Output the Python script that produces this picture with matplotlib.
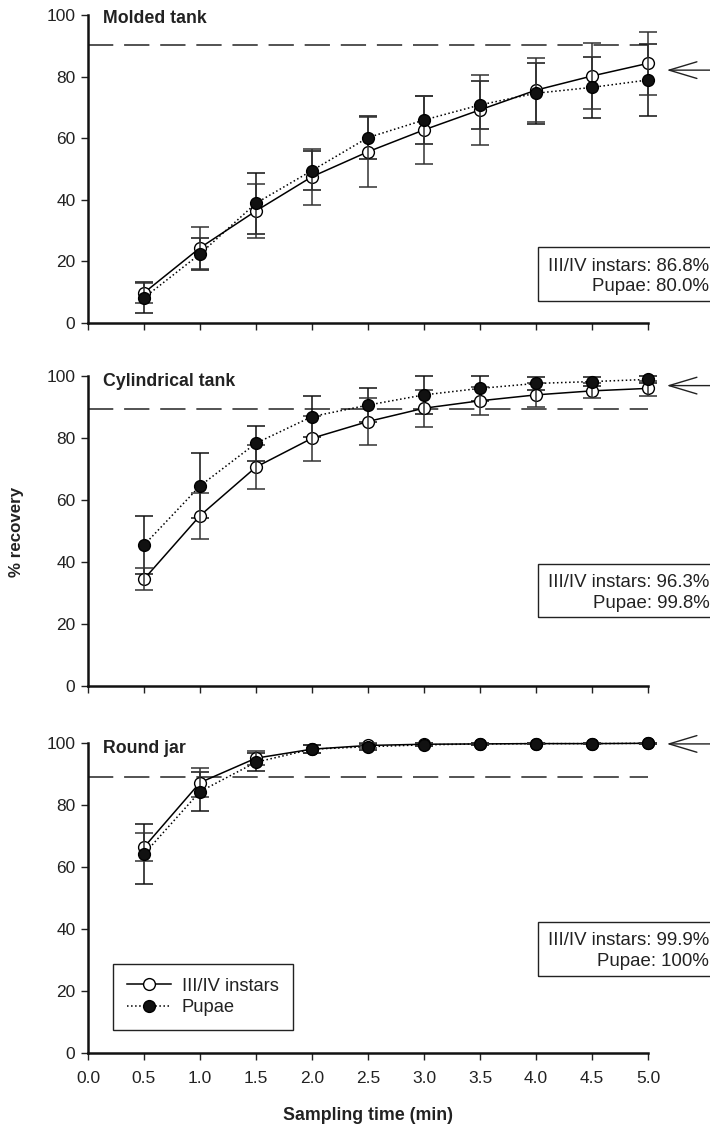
import matplotlib
matplotlib.use("Agg")
import matplotlib.pyplot as plt
from matplotlib.patches import Rectangle

plt.rcParams['font.family'] = ['Liberation Sans', 'DejaVu Sans']

# ---------------- data ----------------
time_min = [0.5, 1.0, 1.5, 2.0, 2.5, 3.0, 3.5, 4.0, 4.5, 5.0]

panel_titles = ["Molded tank", "Cylindrical tank", "Round jar"]

instars_mean = [
    [9.8, 24.4, 36.4, 47.5, 55.6, 62.7, 69.2, 75.6, 80.2, 84.3],
    [34.4, 54.9, 70.6, 79.9, 85.3, 89.6, 92.0, 93.9, 95.2, 96.0],
    [66.4, 87.3, 95.2, 98.1, 99.3, 99.7, 99.8, 99.9, 99.9, 100.0],
]
instars_err = [
    [3.3, 6.9, 8.7, 9.1, 11.3, 11.1, 11.4, 10.5, 10.6, 10.2],
    [3.5, 7.4, 7.2, 7.2, 7.6, 6.0, 4.6, 3.8, 2.4, 2.4],
    [4.5, 4.6, 2.2, 1.2, 0.8, 0.5, 0.3, 0.2, 0.2, 0.1],
]
pupae_mean = [
    [8.2, 22.4, 38.9, 49.5, 60.2, 65.9, 70.8, 74.6, 76.5, 78.9],
    [45.4, 64.5, 78.3, 86.9, 90.6, 93.9, 96.0, 97.6, 98.2, 98.9],
    [64.2, 84.4, 93.9, 98.1, 98.9, 99.5, 99.8, 99.9, 99.9, 100.0],
]
pupae_err = [
    [5.0, 5.3, 9.9, 6.2, 7.0, 7.8, 7.8, 9.9, 10.0, 11.6],
    [9.4, 10.5, 5.6, 6.6, 5.6, 6.1, 4.0, 2.0, 1.5, 1.0],
    [9.6, 6.3, 3.0, 1.2, 1.0, 0.5, 0.3, 0.2, 0.2, 0.1],
]

threshold = [90.3, 89.2, 89.2]          # dashed reference lines
asymptote_arrow = [82.1, 96.9, 99.8]     # arrow positions on right
asym_instars = ["86.8%", "96.3%", "99.9%"]
asym_pupae = ["80.0%", "99.8%", "100%"]

x_ticks = [0.0, 0.5, 1.0, 1.5, 2.0, 2.5, 3.0, 3.5, 4.0, 4.5, 5.0]
y_ticks = [0, 20, 40, 60, 80, 100]

# ---------------- layout ----------------
W, H = 710, 1128
fig = plt.figure(figsize=(W / 100, H / 100), dpi=100)

ax_px = [(15, 323), (376, 685.7), (743.3, 1052.7)]
x_left, x_right = 88, 648
box_px = [(247, 301), (564, 617.3), (922.3, 976)]
txt_px = [(266.7, 286.7), (582.7, 603.3), (940.5, 961.7)]
title_y = [0.99, 0.982, 0.984]

TXT = '#222222'
axes = []
for i in range(3):
    top, bot = ax_px[i]
    ax = fig.add_axes([x_left / W, 1 - bot / H, (x_right - x_left) / W, (bot - top) / H])
    axes.append(ax)

    ax.plot([0, 5.0], [threshold[i]] * 2, color='#444444', lw=1.3,
            dashes=(14, 6), zorder=1)

    ax.errorbar(time_min, pupae_mean[i], yerr=pupae_err[i], fmt='none',
                ecolor='#111111', elinewidth=1.1, capsize=6.5, capthick=1.1,
                zorder=2, clip_on=False)
    ax.plot(time_min, pupae_mean[i], linestyle=':', color='black', lw=1.1,
            zorder=2.5, clip_on=False)
    ax.plot(time_min, instars_mean[i], linestyle='-', color='black', lw=1.1,
            marker='o', markersize=8.5, markerfacecolor='white',
            markeredgecolor='black', markeredgewidth=1,
            zorder=3, clip_on=False)
    ax.errorbar(time_min, instars_mean[i], yerr=instars_err[i], fmt='none',
                ecolor='#333333', elinewidth=1.1, capsize=6.5, capthick=1.1,
                zorder=4, clip_on=False)
    ax.plot(time_min, pupae_mean[i], linestyle='none', marker='o',
            markersize=8.5, markerfacecolor='#111111', markeredgecolor='black',
            markeredgewidth=1, zorder=5, clip_on=False)

    ax.set_xlim(0, 5.0)
    ax.set_ylim(0, 100)
    ax.set_xticks(x_ticks)
    ax.set_yticks(y_ticks)
    for s in ['top', 'right']:
        ax.spines[s].set_visible(False)
    for s in ['left', 'bottom']:
        ax.spines[s].set_linewidth(1.8)
        ax.spines[s].set_color('#111111')
    ax.tick_params(axis='both', direction='out', length=5, width=1,
                   color='#222222', labelsize=12.5, labelcolor=TXT)
    ax.tick_params(axis='y', pad=4)
    ax.tick_params(axis='x', pad=8)
    if i < 2:
        ax.set_xticklabels([])
    else:
        ax.set_xticklabels([f"{v:.1f}" for v in x_ticks])

    ax.text(0.027, title_y[i], panel_titles[i], transform=ax.transAxes,
            ha='left', va='center', fontsize=12.8, fontweight='bold', color=TXT)

    # arrow on the right
    ax.annotate('', xy=(5.167, asymptote_arrow[i]), xycoords='data',
                xytext=(1.01, asymptote_arrow[i]),
                textcoords=('figure fraction', 'data'),
                arrowprops=dict(arrowstyle='->,head_length=1.0,head_width=0.3',
                                mutation_scale=20, lw=1.0, color='#222222',
                                shrinkA=0, shrinkB=0),
                annotation_clip=False)

    # summary box (runs off the right edge)
    btop, bbot = box_px[i]
    fig.patches.append(Rectangle((538 / W, 1 - bbot / H), 200 / W, (bbot - btop) / H,
                                 transform=fig.transFigure, fill=False,
                                 edgecolor='#222222', lw=1.0))
    t1, t2 = txt_px[i]
    fig.text(0.999, 1 - t1 / H, f"III/IV instars: {asym_instars[i]}",
             ha='right', va='center', fontsize=13.4, color=TXT)
    fig.text(0.999, 1 - t2 / H, f"Pupae: {asym_pupae[i]}",
             ha='right', va='center', fontsize=13.4, color=TXT)

# legend in bottom panel (proxy handles built from the same styles)
from matplotlib.lines import Line2D
h_inst = Line2D([], [], linestyle='-', color='black', lw=1.1, marker='o',
                markersize=8.5, markerfacecolor='white', markeredgecolor='black')
h_pup = Line2D([], [], linestyle=':', color='black', lw=1.1, marker='o',
               markersize=8.5, markerfacecolor='#111111', markeredgecolor='black')
leg = axes[2].legend(handles=[h_inst, h_pup], labels=['III/IV instars', 'Pupae'],
                     loc='lower left', bbox_to_anchor=(0.045, 0.073),
                     borderaxespad=0, fancybox=False, framealpha=1,
                     edgecolor='#222222', fontsize=13.2, handlelength=2.4,
                     borderpad=0.75, labelspacing=0.25, handletextpad=0.6)
leg.get_frame().set_linewidth(1.0)
for t in leg.get_texts():
    t.set_color(TXT)

fig.text(17 / W, 1 - 532 / H, "% recovery", rotation=90, ha='center', va='center',
         fontsize=12.2, fontweight='bold', color=TXT)
fig.text(368 / W, 1 - 1116 / H, "Sampling time (min)", ha='center', va='center',
         fontsize=12.8, fontweight='bold', color=TXT)

fig.savefig("out.png", dpi=100)
